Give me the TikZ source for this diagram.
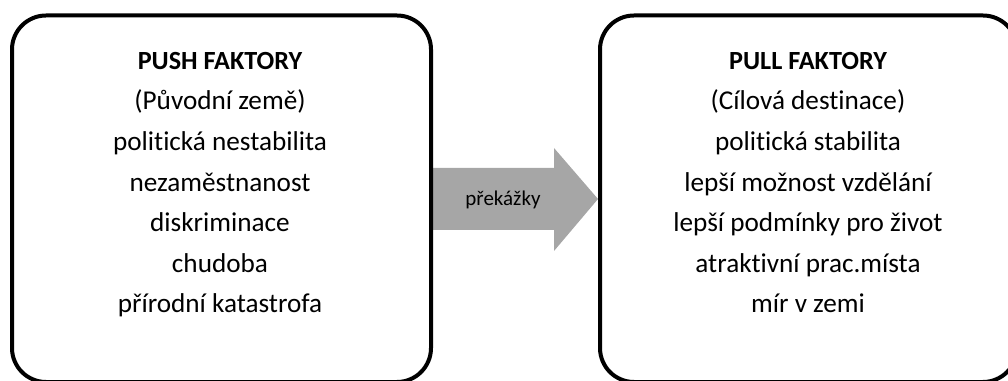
\documentclass[tikz,border=0pt]{standalone}
\usepackage{fontspec}
\setmainfont{Carlito}[Ligatures=NoCommon]
\begin{document}
\begin{tikzpicture}[x=1pt,y=1pt,
  factorbox/.style={draw=black, line width=4pt, rounded corners=34pt, fill=none},
  boxtext/.style={align=center, anchor=north, inner sep=0pt,
    font=\fontsize{27.2}{40.6}\selectfont},
  arrowfill/.style={fill=arrowgray, draw=none},
  arrowtext/.style={font=\fontsize{21}{24}\selectfont, anchor=base, inner sep=0pt}
]
\definecolor{arrowgray}{HTML}{A6A6A6}
\useasboundingbox (0,0) rectangle (1008,380);
\clip (0,0) rectangle (1008,380);
% arrow (behind the boxes)
\coordinate (a1) at (432,212);
\coordinate (a2) at (554,212);
\coordinate (a3) at (554,232);
\coordinate (tip) at (598,181);
\coordinate (a5) at (554,129);
\coordinate (a6) at (554,150);
\coordinate (a7) at (432,150);
\fill[arrowfill] (a1) -- (a2) -- (a3) -- (tip) -- (a5) -- (a6) -- (a7) -- cycle;
\node[arrowtext] (obst) at (503,174) {překážky};
% boxes
\draw[factorbox] (12,364.5) rectangle (431,-2);
\node[minimum width=0pt, inner sep=0pt] (push) at (221.5,181) {};
\draw[factorbox] (600,364.5) rectangle (1017,-2);
\node[minimum width=0pt, inner sep=0pt] (pull) at (808.5,181) {};
% texts
\node[boxtext] (pushtext) at (220,328) {{\fontsize{26.2}{40.6}\selectfont\bfseries PUSH FAKTORY}\\(Původní země)\\politická nestabilita\\nezaměstnanost\\diskriminace\\chudoba\\přírodní katastrofa};
\node[boxtext] (pulltext) at (808,328) {{\fontsize{26.2}{40.6}\selectfont\bfseries PULL FAKTORY}\\(Cílová destinace)\\politická stabilita\\lepší možnost vzdělání\\lepší podmínky pro život\\atraktivní prac.místa\\mír v zemi};
\end{tikzpicture}
\end{document}
